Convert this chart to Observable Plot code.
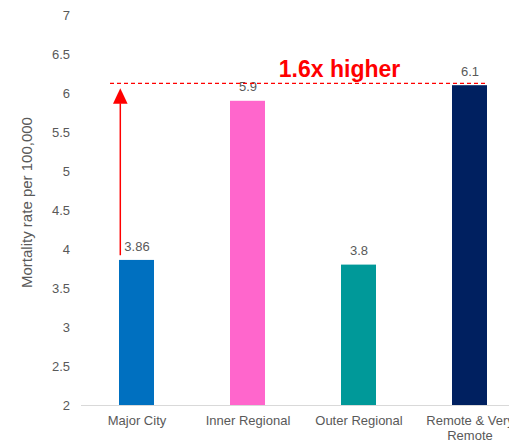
<!DOCTYPE html>
<html>
<head>
<meta charset="utf-8">
<script src="https://cdn.jsdelivr.net/npm/d3@7"></script>
<script src="https://cdn.jsdelivr.net/npm/@observablehq/plot@0.6"></script>
<style>
  html, body { margin: 0; padding: 0; background: #fff; overflow: hidden; }
  #chart { width: 509px; height: 441px; overflow: hidden; }
  #chart svg { max-width: none !important; width: 530px !important; height: 441px !important; }
</style>
</head>
<body>
<div id="chart"></div>
<script>
const categories = ["Major City", "Inner Regional", "Outer Regional", "Remote & Very Remote"];
const xTickLabels = ["Major City", "Inner Regional", "Outer Regional", "Remote & Very\nRemote"];
const rates = [3.86, 5.9, 3.8, 6.1];
const valueLabels = ["3.86", "5.9", "3.8", "6.1"];
const colors = ["#0070C0", "#FF66CC", "#009999", "#002060"];
const yTicks = [2, 2.5, 3, 3.5, 4, 4.5, 5, 5.5, 6, 6.5, 7];
const yLabel = "Mortality rate per 100,000";
const refLevel = 6.13;          // dashed reference line (Remote level)
const arrowFrom = 3.92;         // arrow start (just above Major City)
const arrowHeadBase = 5.868;    // arrow head base
const annotation = "1.6x higher";

const data = categories.map((c, i) => ({category: c, rate: rates[i], label: valueLabels[i], color: colors[i]}));
const yMin = yTicks[0];

const triangle = {
  draw(context) {
    context.moveTo(0, -15.6);
    context.lineTo(7.3, 0);
    context.lineTo(-7.3, 0);
    context.closePath();
  }
};

const plot = Plot.plot({
  width: 530,
  height: 441,
  marginTop: 15,
  marginBottom: 36,
  marginLeft: 81,
  marginRight: 5,
  style: {fontFamily: "'Liberation Sans', Arial, sans-serif", fontSize: "13px", background: "#fff"},
  x: {domain: categories, paddingInner: 0.685, paddingOuter: 0.3425, label: null},
  y: {domain: [yTicks[0], yTicks[yTicks.length - 1]], label: null},
  marks: [
    Plot.barY(data, {x: "category", y1: () => yMin, y2: "rate", fill: "color"}),
    Plot.ruleY([yMin], {stroke: "#D9D9D9", strokeWidth: 1}),
    Plot.axisY({ticks: yTicks, tickSize: 0, tickPadding: 11.5, tickFormat: d => String(d), color: "#595959", fontSize: 13, label: null}),
    Plot.axisX({tickSize: 0, tickPadding: 8.5, tickFormat: (d, i) => xTickLabels[categories.indexOf(d)], color: "#595959", fontSize: 13, lineHeight: 1.18, label: null}),
    Plot.text([yLabel], {frameAnchor: "left", textAnchor: "middle", text: d => d, rotate: -90, dx: -54, dy: -8, fill: "#595959", fontSize: 15}),
    Plot.text(data, {x: "category", y: "rate", text: "label", dy: -14, fill: "#595959", fontSize: 13}),
    Plot.ruleY([refLevel], {x1: () => categories[0], x2: () => categories[categories.length - 1], insetLeft: -9, stroke: "#FF0000", strokeWidth: 1.2, strokeDasharray: "4,3"}),
    Plot.ruleX([categories[0]], {x: d => d, y1: () => arrowFrom, y2: () => arrowHeadBase, dx: -16.7, stroke: "#FF0000", strokeWidth: 1.5}),
    Plot.dot([categories[0]], {x: d => d, y: () => arrowHeadBase, dx: -16.7, symbol: triangle, fill: "#FF0000", stroke: "none"}),
    Plot.text([annotation], {x: () => categories[2], y: () => refLevel, text: d => d, dx: -19.5, dy: -13.8, fill: "#FF0000", fontSize: 23, fontWeight: "bold"})
  ]
});
document.getElementById("chart").appendChild(plot);
</script>
</body>
</html>
